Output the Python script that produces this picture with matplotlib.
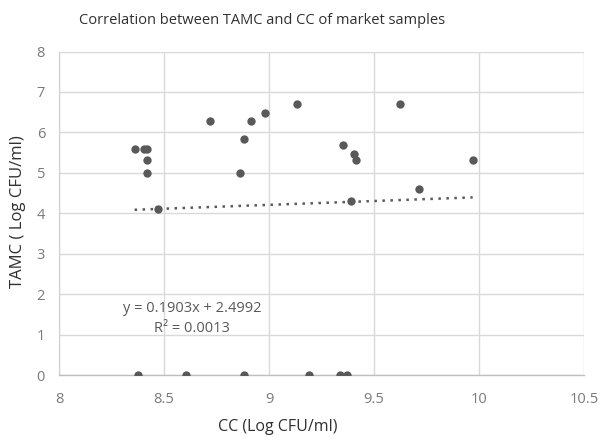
import matplotlib
matplotlib.use('Agg')
import matplotlib.pyplot as plt
import numpy as np

# CC (Log CFU/ml) vs TAMC (Log CFU/ml)
cc = [8.360, 8.405, 8.420, 8.418, 8.418, 8.473, 8.719, 8.881, 8.863, 8.916,
      8.981, 9.132, 9.354, 9.622, 9.406, 9.413, 9.970, 9.714, 9.389,
      8.378, 8.605, 8.881, 9.192, 9.338, 9.370]
tamc = [5.60, 5.60, 5.60, 5.32, 5.00, 4.10, 6.29, 5.83, 5.00, 6.29,
        6.47, 6.70, 5.70, 6.70, 5.47, 5.32, 5.32, 4.61, 4.31,
        0, 0, 0, 0, 0, 0]
slope = 0.1903
intercept = 2.4992
r2 = 0.0013

plt.rcParams['font.family'] = ['Open Sans', 'DejaVu Sans']
grey = '#595959'

fig = plt.figure(figsize=(6, 4.38), dpi=100)
ax = fig.add_axes([0.0983, 0.143, 0.875, 0.7394])

ax.grid(True, color='#d9d9d9', linewidth=1.0, zorder=0)
ax.set_axisbelow(True)

xs = np.array([min(cc), max(cc)])
ax.plot(xs, slope * xs + intercept, linestyle=(0, (1, 2.2)), color=grey,
        linewidth=1.8, zorder=2)
ax.scatter(cc, tamc, s=36, color=grey, zorder=3, linewidths=0)

ax.set_xlim(8, 10.5)
ax.set_ylim(0, 8)
ax.set_xticks([8, 8.5, 9, 9.5, 10, 10.5])
ax.set_xticklabels(['8', '8.5', '9', '9.5', '10', '10.5'])
ax.set_yticks(range(0, 9))

for s in ['top', 'right']:
    ax.spines[s].set_visible(False)
ax.spines['left'].set_color('#d0d0d0')
ax.spines['bottom'].set_color('#bfbfbf')
ax.spines['bottom'].set_linewidth(1.0)
ax.tick_params(length=0, labelsize=10.5, colors='#7a7a7a')
ax.tick_params(axis='x', pad=12)
ax.tick_params(axis='y', pad=10)

ax.text(8.633, 1.66, 'y = 0.1903x + 2.4992', ha='center', va='center',
        fontsize=10.5, color=grey)
ax.text(8.633, 1.17, 'R² = %.4f' % r2, ha='center', va='center',
        fontsize=10.5, color=grey)

fig.text(278 / 600, 1 - 427 / 438, 'CC (Log CFU/ml)', ha='center',
         va='center', fontsize=11.5, color='#303030')
fig.text(18 / 600, 1 - 212 / 438, 'TAMC ( Log CFU/ml)', ha='center',
         va='center', rotation=90, fontsize=12, color='#303030')
fig.text(262 / 600, 1 - 20 / 438,
         'Correlation between TAMC and CC of market samples',
         ha='center', va='center', fontsize=10.5, color='#303030')

fig.savefig('out.png', dpi=100)
